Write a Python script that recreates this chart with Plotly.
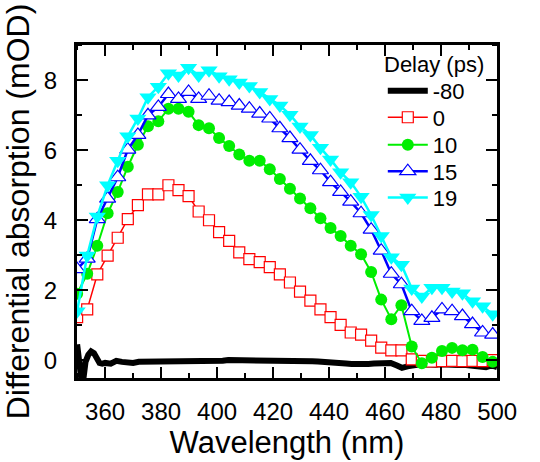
import plotly.graph_objects as go

# wavelength grid of the marker series (nm)
wl = [350.0, 353.6, 357.2, 360.9, 364.5, 368.1, 371.7, 375.3, 379.0, 382.6,
      386.2, 389.8, 393.4, 397.1, 400.7, 404.3, 407.9, 411.5, 415.2, 418.8,
      422.4, 426.0, 429.6, 433.3, 436.9, 440.5, 444.1, 447.7, 451.4, 455.0,
      458.6, 462.2, 465.8, 469.5, 473.1, 476.7, 480.3, 483.9, 487.6, 491.2,
      494.8, 498.4]

d0 = [1.23, 1.45, 2.45, 2.99, 3.50, 4.03, 4.43, 4.74, 4.74, 5.00,
      4.86, 4.69, 4.25, 4.00, 3.66, 3.41, 3.08, 2.89, 2.80, 2.66,
      2.45, 2.22, 1.96, 1.70, 1.45, 1.23, 1.01, 0.79, 0.73, 0.56,
      0.36, 0.28, 0.28, 0.02, -0.02, -0.04, -0.03, -0.02, -0.03, -0.02,
      -0.03, 0.00]

d10 = [1.90, 2.47, 3.27, 4.20, 4.81, 5.53, 6.16, 6.69, 6.83, 7.19,
       7.19, 7.10, 6.72, 6.63, 6.35, 6.12, 5.88, 5.70, 5.70, 5.46,
       5.18, 4.90, 4.62, 4.34, 4.06, 3.78, 3.55, 3.27, 3.03, 2.52,
       1.73, 1.17, 1.57, 0.39, -0.09, 0.07, 0.26, 0.35, 0.28, 0.30,
       0.09, -0.05]

d15 = [2.60, 2.90, 4.03, 4.62, 5.23, 6.02, 6.44, 7.00, 7.24, 7.61,
       7.47, 7.67, 7.47, 7.56, 7.42, 7.38, 7.28, 7.19, 7.05, 6.91,
       6.63, 6.35, 6.02, 5.70, 5.43, 5.09, 4.81, 4.53, 4.20, 3.73,
       3.13, 2.47, 2.17, 1.40, 1.12, 1.21, 1.45, 1.40, 1.26, 1.03,
       0.79, 0.73]

d19 = [1.40, 2.99, 4.11, 5.00, 5.70, 6.40, 6.91, 7.52, 7.82, 8.20,
       8.14, 8.36, 8.14, 8.29, 8.12, 8.03, 7.94, 7.84, 7.67, 7.47,
       7.28, 7.02, 6.68, 6.44, 6.07, 5.74, 5.37, 5.09, 4.67, 4.15,
       3.55, 2.94, 2.73, 2.05, 1.82, 2.07, 2.07, 1.96, 1.91, 1.68,
       1.54, 1.31]

# -80 ps trace (denser, line only)
wl_neg = [350.0, 350.7, 351.5, 352.3, 353.0, 354.0, 355.0, 356.0, 357.0, 358.0,
          359.0, 360.0, 362.0, 364.0, 366.0, 368.0, 370.0, 372.0, 374.0, 376.0,
          378.0, 380.0, 382.0, 384.0, 386.0, 388.0, 390.0, 392.0, 394.0, 396.0,
          398.0, 400.0, 402.0, 404.0, 406.0, 408.0, 410.0, 412.0, 414.0, 416.0,
          418.0, 420.0, 422.0, 424.0, 426.0, 428.0, 430.0, 432.0, 434.0, 436.0,
          438.0, 440.0, 442.0, 444.0, 446.0, 448.0, 450.0, 452.0, 454.0, 456.0,
          458.0, 460.0, 461.0, 462.0, 464.0, 466.0, 468.0, 470.0, 472.0, 474.0,
          476.0, 478.0, 480.0, 482.0, 484.0, 486.0, 488.0, 490.0, 492.0, 494.0,
          496.0, 498.0, 500.0]
dneg = [0.45, 0.10, -0.55, -0.50, -0.05, 0.15, 0.25, 0.20, 0.02, -0.08,
        -0.10, -0.08, -0.10, -0.02, -0.05, -0.08, -0.08, -0.05, -0.05, -0.03,
        -0.02, -0.03, -0.02, -0.02, -0.03, -0.02, -0.03, -0.02, -0.01, -0.02,
        -0.01, -0.02, -0.02, 0.00, 0.00, 0.01, 0.00, -0.01, 0.00, -0.02,
        -0.01, 0.00, -0.01, -0.03, -0.03, -0.02, -0.02, -0.03, -0.03, -0.04,
        -0.06, -0.06, -0.08, -0.08, -0.10, -0.11, -0.12, -0.12, -0.11, -0.10,
        -0.09, -0.07, -0.05, -0.08, -0.15, -0.22, -0.18, -0.14, -0.13, -0.12,
        -0.14, -0.13, -0.12, -0.14, -0.15, -0.14, -0.13, -0.15, -0.18, -0.17,
        -0.20, -0.15, -0.20]

series_names = ["-80", "0", "10", "15", "19"]
legend_title = "Delay (ps)"
x_tickvals = [360, 380, 400, 420, 440, 460, 480, 500]
y_tickvals = [0, 2, 4, 6, 8]

FONT = "Liberation Sans, Arial, sans-serif"
legend_ids = ["legend", "legend2", "legend3", "legend4", "legend5"]

fig = go.Figure()
fig.add_trace(go.Scatter(x=wl_neg, y=dneg, name=series_names[0], mode="lines",
                         legend=legend_ids[0],
                         line=dict(color="black", width=6)))
fig.add_trace(go.Scatter(x=wl, y=d0, name=series_names[1], mode="lines+markers",
                         legend=legend_ids[1],
                         line=dict(color="#FF0000", width=1.5),
                         marker=dict(symbol="square", size=11, color="white",
                                     line=dict(color="#FF0000", width=1.2))))
fig.add_trace(go.Scatter(x=wl, y=d10, name=series_names[2], mode="lines+markers",
                         legend=legend_ids[2],
                         line=dict(color="#00EE00", width=2),
                         marker=dict(symbol="circle", size=12, color="#00EE00")))
fig.add_trace(go.Scatter(x=wl, y=d15, name=series_names[3], mode="lines+markers",
                         legend=legend_ids[3],
                         line=dict(color="#0000FF", width=2.5),
                         marker=dict(symbol="triangle-up", size=14, color="white",
                                     line=dict(color="#0000FF", width=1.2))))
fig.add_trace(go.Scatter(x=wl, y=d19, name=series_names[4], mode="lines+markers",
                         legend=legend_ids[4],
                         line=dict(color="#00FFFF", width=2.5),
                         marker=dict(symbol="triangle-down", size=15, color="#00FFFF")))

# each legend entry placed at its own height (plot area: y from 44 px to 386 px)
entry_px = [92, 119, 147, 174, 201]
legend_layout = {}
for lid, py in zip(legend_ids, entry_px):
    legend_layout[lid] = dict(x=0.727, y=(386 - py) / 342, xanchor="left", yanchor="middle",
                              bgcolor="rgba(0,0,0,0)", font=dict(size=22),
                              itemwidth=40)

fig.update_layout(
    width=540, height=462,
    margin=dict(l=76, r=42, t=44, b=76),
    paper_bgcolor="white", plot_bgcolor="white",
    font=dict(family=FONT, color="black"),
    showlegend=True,
    annotations=[dict(text=legend_title, xref="paper", yref="paper",
                      x=0.724, y=(386 - 65) / 342, xanchor="left", yanchor="middle",
                      showarrow=False, font=dict(size=22))],
    shapes=[dict(type="rect", xref="paper", yref="paper", x0=0, y0=0, x1=1, y1=1,
                 line=dict(color="black", width=2), layer="above")],
    **legend_layout,
)
fig.update_xaxes(
    range=[349.6, 500.3], tickvals=x_tickvals,
    ticks="inside", ticklen=12, tickwidth=2, tickcolor="black",
    minor=dict(dtick=10, tick0=350, ticks="inside", ticklen=6, tickwidth=2, tickcolor="black"),
    showline=True, linewidth=2, linecolor="black", mirror="ticks",
    showgrid=False, zeroline=False,
    tickfont=dict(size=24), ticklabelstandoff=10,
    title=dict(text="Wavelength (nm)", font=dict(size=31), standoff=4),
)
fig.update_yaxes(
    range=[-0.54, 9.04], tickvals=y_tickvals,
    ticks="inside", ticklen=12, tickwidth=2, tickcolor="black",
    minor=dict(dtick=1, tick0=0, ticks="inside", ticklen=6, tickwidth=2, tickcolor="black"),
    showline=True, linewidth=2, linecolor="black", mirror="ticks",
    showgrid=False, zeroline=False,
    tickfont=dict(size=24), ticklabelstandoff=12,
    title=dict(text="Differential absorption (mOD)", font=dict(size=32), standoff=5),
)

fig.write_html("out.html")
